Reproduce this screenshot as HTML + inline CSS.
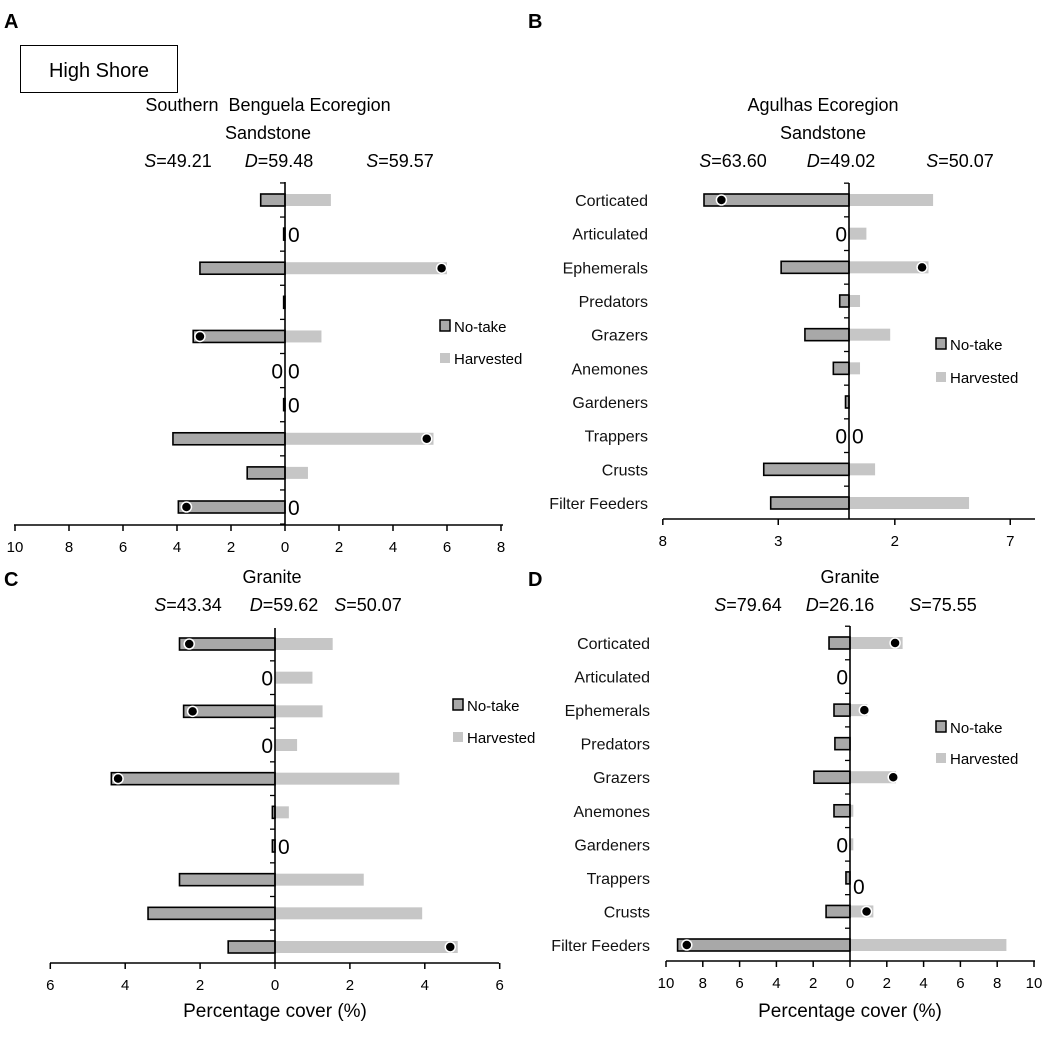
<!DOCTYPE html>
<html><head><meta charset="utf-8"><style>
body{margin:0;background:#fff;}
svg{display:block;font-family:"Liberation Sans","DejaVu Sans",sans-serif;}
</style></head><body>
<svg id="fig" width="1060" height="1038" viewBox="0 0 1060 1038">
<text x="4" y="28" font-size="20" font-weight="bold">A</text>
<text x="528" y="28" font-size="20" font-weight="bold">B</text>
<text x="4" y="586" font-size="20" font-weight="bold">C</text>
<text x="528" y="586" font-size="20" font-weight="bold">D</text>
<rect x="20.5" y="45.5" width="157" height="47" fill="#fff" stroke="#000" stroke-width="1"/>
<text x="99" y="77" font-size="20" text-anchor="middle">High Shore</text>
<text x="268" y="111" font-size="18" text-anchor="middle" xml:space="preserve">Southern  Benguela Ecoregion</text>
<text x="268" y="139" font-size="18" text-anchor="middle">Sandstone</text>
<text x="823" y="111" font-size="18" text-anchor="middle">Agulhas Ecoregion</text>
<text x="823" y="139" font-size="18" text-anchor="middle">Sandstone</text>
<text x="272" y="583" font-size="18" text-anchor="middle">Granite</text>
<text x="850" y="583" font-size="18" text-anchor="middle">Granite</text>
<text x="275" y="1017" font-size="19" text-anchor="middle">Percentage cover (%)</text>
<text x="850" y="1017" font-size="19" text-anchor="middle">Percentage cover (%)</text>
</svg>
<script>
const categories = ["Corticated","Articulated","Ephemerals","Predators","Grazers","Anemones","Gardeners","Trappers","Crusts","Filter Feeders"];
const aNoTake = [0.9,0.05,3.15,0.05,3.4,0,0.05,4.15,1.4,3.95];
const aHarv = [1.7,0,6.0,0,1.35,0,0,5.5,0.85,0];
const aDotNT = [null,null,null,null,3.15,null,null,null,null,3.65];
const aDotH = [null,null,5.8,null,null,null,null,5.25,null,null];
const aZeroL = [0,0,0,0,0,1,0,0,0,0];
const aZeroR = [0,1,0,0,0,1,1,0,0,1];
const aTicks = [-10,-8,-6,-4,-2,0,2,4,6,8];
const aTickLabels = ["10","8","6","4","2","0","2","4","6","8"];
const aStats = ["49.21","59.48","59.57"];

const bNoTake = [2.5,0,1.17,0.16,0.76,0.27,0.06,0,1.47,1.35];
const bHarv = [1.45,0.3,1.37,0.19,0.71,0.19,0,0,0.45,2.07];
const bDotNT = [2.2,null,null,null,null,null,null,null,null,null];
const bDotH = [null,null,1.26,null,null,null,null,null,null,null];
const bZeroL = [0,1,0,0,0,0,0,1,0,0];
const bZeroR = [0,0,0,0,0,0,0,1,0,0];
const bTicks = [-3.21,-1.22,0.79,2.78];
const bTickLabels = ["8","3","2","7"];
const bStats = ["63.60","49.02","50.07"];

const cNoTake = [2.55,0,2.44,0,4.37,0.07,0.07,2.55,3.39,1.25];
const cHarv = [1.54,1.0,1.27,0.59,3.32,0.37,0,2.37,3.93,4.88];
const cDotNT = [2.29,null,2.2,null,4.19,null,null,null,null,null];
const cDotH = [null,null,null,null,null,null,null,null,null,4.68];
const cZeroL = [0,1,0,1,0,0,0,0,0,0];
const cZeroR = [0,0,0,0,0,0,1,0,0,0];
const cTicks = [-6,-4,-2,0,2,4,6];
const cTickLabels = ["6","4","2","0","2","4","6"];
const cStats = ["43.34","59.62","50.07"];

const dNoTake = [1.14,0,0.87,0.82,1.96,0.87,0,0.22,1.3,9.37];
const dHarv = [2.86,0,0.94,0,2.5,0.18,0.18,0,1.27,8.5];
const dDotNT = [null,null,null,null,null,null,null,null,null,8.87];
const dDotH = [2.45,null,0.78,null,2.35,null,null,null,0.9,null];
const dZeroL = [0,1,0,0,0,0,1,0,0,0];
const dZeroR = [0,0,0,0,0,0,0,1,0,0];
const dTicks = [-10,-8,-6,-4,-2,0,2,4,6,8,10];
const dTickLabels = ["10","8","6","4","2","0","2","4","6","8","10"];
const dStats = ["79.64","26.16","75.55"];

const NS="http://www.w3.org/2000/svg";
const svg=document.getElementById('fig');
function mk(tag,attrs,parent){const e=document.createElementNS(NS,tag);for(const k in attrs)e.setAttribute(k,attrs[k]);(parent||svg).appendChild(e);return e;}

function panel(p){
  const g=mk('g',{});
  
  
  const x=v=>p.cx+v*p.ppu;
  const n=categories.length;
  const y=i=>p.y0+i*(p.y1-p.y0)/(n-1);
  const step=(p.y1-p.y0)/(n-1);
  const st=mk('text',{x:p.statX[0],y:p.statY,'font-size':18,'text-anchor':'middle'},g);
  
  
  st.innerHTML='<tspan font-style="italic">S</tspan>='+p.stats[0];
  const sd=mk('text',{x:p.statX[1],y:p.statY,'font-size':18,'text-anchor':'middle'},g);
  
  
  sd.innerHTML='<tspan font-style="italic">D</tspan>='+p.stats[1];
  const sh=mk('text',{x:p.statX[2],y:p.statY,'font-size':18,'text-anchor':'middle'},g);
  
  
  sh.innerHTML='<tspan font-style="italic">S</tspan>='+p.stats[2];
  const bh=12;
  for(let i=0;i<n;i++){
    const yy=y(i);
    if(p.h[i]>0){
      const r=mk('rect',{x:x(0),y:yy-bh/2,width:x(p.h[i])-x(0),height:bh,fill:'#c6c6c6'},g);
      
      
    }
    if(p.nt[i]>0){
      const r=mk('rect',{x:x(-p.nt[i]),y:yy-bh/2,width:x(0)-x(-p.nt[i]),height:bh,fill:'#a8a8a8',stroke:'#000','stroke-width':1.6},g);
      
      
    }
    if(p.dnt[i]!=null){
      const c=mk('circle',{cx:x(-p.dnt[i]),cy:yy,r:5,fill:'#000',stroke:'#fff','stroke-width':1.5},g);
      
      
    }
    if(p.dh[i]!=null){
      const c=mk('circle',{cx:x(p.dh[i]),cy:yy,r:5,fill:'#000',stroke:'#fff','stroke-width':1.5},g);
      
      
    }
    if(p.zl[i]){
      const t=mk('text',{x:x(0)-2,y:yy+8,'font-size':21,'text-anchor':'end'},g);
      t.textContent='0';
      
      
    }
    if(p.zr[i]){
      const t=mk('text',{x:x(0)+3,y:yy+8+(p.zrOff?p.zrOff[i]:0),'font-size':21,'text-anchor':'start'},g);
      t.textContent='0';
      
      
    }
    if(p.cats){
      const t=mk('text',{x:p.catX,y:yy+6,'font-size':16,'text-anchor':'end',fill:'#111'},g);
      t.textContent=categories[i];
      
      
    }
  }
  const va=mk('line',{x1:x(0),x2:x(0),y1:p.ytop,y2:p.axisY,stroke:'#000','stroke-width':1.6},g);
  
  
  for(let i=0;i<=n;i++){
    const ty=p.y0-step/2+i*step;
    if(ty<p.ytop||ty>p.axisY)continue;
    const tl=mk('line',{x1:x(0)-5,x2:x(0),y1:ty,y2:ty,stroke:'#000','stroke-width':1.3},g);
    
    
  }
  const xa=mk('line',{x1:p.axL,x2:p.axR,y1:p.axisY,y2:p.axisY,stroke:'#000','stroke-width':1.6},g);
  
  
  p.ticks.forEach((v,k)=>{
    const tl=mk('line',{x1:x(v),x2:x(v),y1:p.axisY,y2:p.axisY+6,stroke:'#000','stroke-width':1.5},g);
    
    
    const t=mk('text',{x:x(v),y:p.axisY+27,'font-size':15,'text-anchor':'middle'},g);
    t.textContent=p.tickLabels[k];
    
    
  });
  const lb=mk('rect',{x:p.legX,y:p.legY-6,width:10,height:11,fill:'#a8a8a8',stroke:'#000','stroke-width':1.5},g);
  
  
  const lt=mk('text',{x:p.legX+14,y:p.legY+6,'font-size':15},g);
  lt.textContent='No-take';
  
  
  const hb=mk('rect',{x:p.legX,y:p.legY+p.legGap-5,width:10,height:10,fill:'#c6c6c6'},g);
  
  
  const ht=mk('text',{x:p.legX+14,y:p.legY+p.legGap+6,'font-size':15},g);
  ht.textContent='Harvested';
  
  
}

panel({id:'a',cx:285,ppu:27,y0:200,y1:507,ytop:182,axisY:525,axL:14,axR:503,
  nt:aNoTake,h:aHarv,dnt:aDotNT,dh:aDotH,zl:aZeroL,zr:aZeroR,ticks:aTicks,tickLabels:aTickLabels,
  stats:aStats,statX:[178,279,400],statY:167,legX:440,legY:326,legGap:32});
panel({id:'b',cx:849,ppu:58,y0:200,y1:503,ytop:183,axisY:519,axL:663,axR:1035,
  nt:bNoTake,h:bHarv,dnt:bDotNT,dh:bDotH,zl:bZeroL,zr:bZeroR,ticks:bTicks,tickLabels:bTickLabels,
  stats:bStats,statX:[733,841,960],statY:167,legX:936,legY:344,legGap:33,cats:true,catX:648});
panel({id:'c',cx:275,ppu:37.45,y0:644,y1:947,ytop:628,axisY:963,axL:50,axR:499,
  nt:cNoTake,h:cHarv,dnt:cDotNT,dh:cDotH,zl:cZeroL,zr:cZeroR,ticks:cTicks,tickLabels:cTickLabels,
  stats:cStats,statX:[188,284,368],statY:611,legX:453,legY:705,legGap:32});
panel({id:'d',cx:850,ppu:18.4,y0:643,y1:945,ytop:626,axisY:961,axL:666,axR:1035,
  nt:dNoTake,h:dHarv,dnt:dDotNT,dh:dDotH,zl:dZeroL,zr:dZeroR,zrOff:[0,0,0,0,0,0,0,8,0,0],ticks:dTicks,tickLabels:dTickLabels,
  stats:dStats,statX:[748,840,943],statY:611,legX:936,legY:727,legGap:31,cats:true,catX:650});
</script>
</body></html>
